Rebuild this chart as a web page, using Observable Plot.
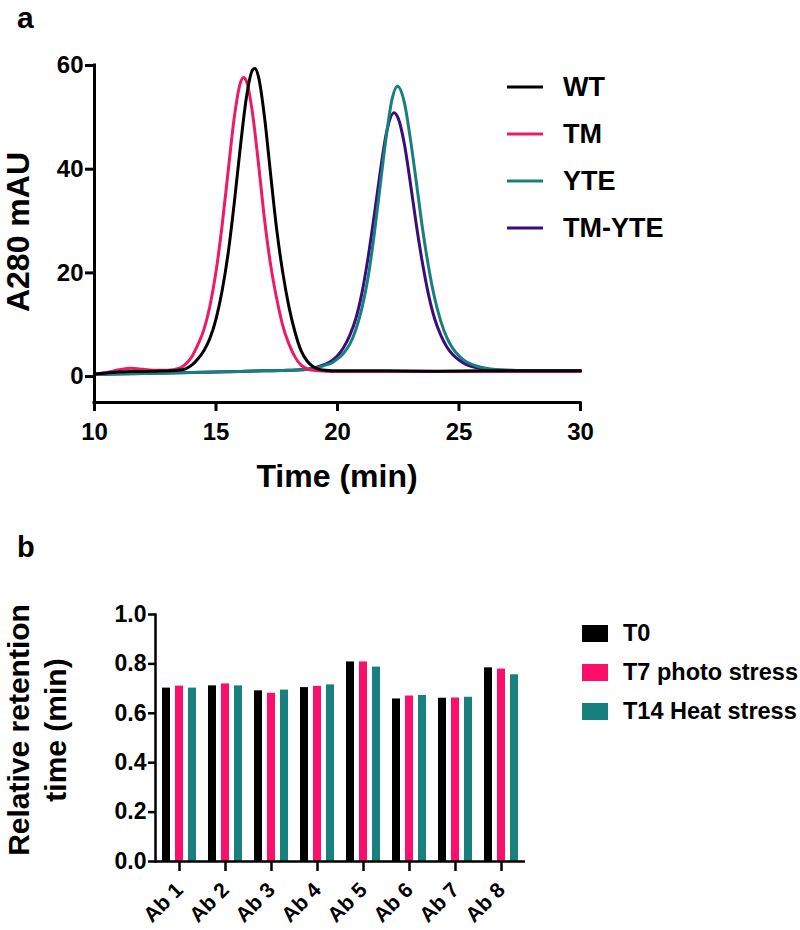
<!DOCTYPE html>
<html>
<head>
<meta charset="utf-8">
<script src="https://cdn.jsdelivr.net/npm/d3@7"></script>
<script src="https://cdn.jsdelivr.net/npm/@observablehq/plot@0.6"></script>
<style>
  body { margin: 0; background: #fff; }
  #wrap { position: relative; width: 800px; height: 930px; font-family: 'Liberation Sans', Arial, Helvetica, sans-serif; font-weight: bold; color: #000; overflow: hidden; }
  .abs { position: absolute; white-space: nowrap; line-height: 1; }
  .plot { position: absolute; left: 0; }
</style>
</head>
<body>
<div id="wrap"></div>
<script>
// ---------- Panel a: SEC chromatograms (time in min, A280 in mAU) ----------
const wtTrace = [[10,0.5],[10.5,0.7],[11,0.9],[11.5,1.0],[12,1.0],[12.5,1.05],[13,1.1],[13.5,1.25],[13.75,1.5],[14,2.2],[14.25,3.4],[14.5,5.0],[14.75,7.4],[15,11.1],[15.25,16.5],[15.5,23.8],[15.75,33.4],[16,44.2],[16.25,53.8],[16.5,59.1],[16.6,59.4],[16.75,57.8],[17,49.9],[17.25,38.9],[17.5,28.3],[17.75,20.0],[18,13.5],[18.25,8.6],[18.5,5.0],[18.75,3.0],[19,1.9],[19.25,1.4],[19.5,1.2],[20,1.1],[22,1.1],[24,1.05],[26,1.1],[28,1.1],[30,1.1]];
const tmTrace = [[10,0.5],[10.5,0.8],[11,1.3],[11.5,1.6],[12,1.4],[12.5,1.2],[13,1.2],[13.5,1.6],[13.75,2.4],[14,3.8],[14.25,6.1],[14.5,9.0],[14.75,13.6],[15,20.2],[15.25,29.1],[15.5,39.6],[15.75,49.9],[16,56.6],[16.13,57.7],[16.25,57.0],[16.5,50.9],[16.75,41.0],[17,30.2],[17.25,21.5],[17.5,15.0],[17.75,9.8],[18,6.3],[18.25,3.8],[18.5,2.2],[18.75,1.5],[19,1.2],[19.5,1.05],[20,1.0],[22,1.0],[24,1.0],[26,1.0],[28,1.0],[30,1.0]];
const yteTrace = [[10,0.4],[12,0.6],[14,0.8],[16,1.0],[17,1.1],[18,1.2],[18.5,1.3],[19,1.5],[19.25,1.8],[19.5,2.2],[19.75,2.6],[20,3.4],[20.25,4.5],[20.5,6.2],[20.75,9.0],[21,13.1],[21.25,18.9],[21.5,27.0],[21.75,36.6],[22,46.1],[22.25,53.6],[22.47,56.0],[22.75,52.9],[23,45.8],[23.25,37.3],[23.5,28.5],[23.75,21.1],[24,15.1],[24.25,10.7],[24.5,7.5],[24.75,5.4],[25,4.0],[25.25,3.0],[25.5,2.4],[25.75,2.0],[26,1.7],[26.5,1.35],[27,1.2],[28,1.12],[30,1.1]];
const tmYteTrace = [[10,0.4],[12,0.6],[14,0.8],[16,1.0],[17,1.1],[18,1.2],[18.5,1.3],[19,1.6],[19.25,1.95],[19.5,2.4],[19.75,3.0],[20,4.0],[20.25,5.6],[20.5,7.9],[20.75,11.1],[21,16.0],[21.25,22.7],[21.5,30.7],[21.75,39.2],[22,46.7],[22.33,50.9],[22.5,49.8],[22.75,44.9],[23,37.3],[23.25,29.1],[23.5,21.8],[23.75,15.7],[24,11.1],[24.25,8.0],[24.5,5.7],[24.75,4.2],[25,3.2],[25.25,2.45],[25.5,2.0],[25.75,1.7],[26,1.5],[26.5,1.3],[27,1.2],[28,1.1],[30,1.1]];

const traceNames = ["WT", "TM", "YTE", "TM-YTE"];
const traceColors = ["#000000", "#ec1a67", "#17807f", "#3a0c7c"];
const xDomainA = [10, 30];
const xTicksA = [10, 15, 20, 25, 30];
const yDomainA = [-5, 60];
const yTicksA = [0, 20, 40, 60];

// ---------- Panel b: relative retention time ----------
const antibodies = ["Ab 1", "Ab 2", "Ab 3", "Ab 4", "Ab 5", "Ab 6", "Ab 7", "Ab 8"];
const conditions = ["T0", "T7 photo stress", "T14 Heat stress"];
const t0Values  = [0.702, 0.711, 0.691, 0.704, 0.808, 0.658, 0.661, 0.784];
const t7Values  = [0.710, 0.719, 0.681, 0.709, 0.808, 0.670, 0.662, 0.779];
const t14Values = [0.702, 0.711, 0.694, 0.715, 0.787, 0.672, 0.665, 0.756];
const barColors = ["#000000", "#fb0f6a", "#18817f"];
const yDomainB = [0, 1];
const yTicksB = [0, 0.2, 0.4, 0.6, 0.8, 1.0];

const FONT = "'Liberation Sans', Arial, Helvetica, sans-serif";
const wrap = document.getElementById("wrap");

// ----- Plot a -----
const traces = [tmYteTrace, yteTrace, tmTrace, wtTrace];
const traceIdx = [3, 2, 1, 0];
const plotA = Plot.plot({
  width: 800, height: 520,
  marginLeft: 94, marginRight: 220, marginTop: 65, marginBottom: 118,
  x: {domain: xDomainA},
  y: {domain: yDomainA},
  style: {fontFamily: FONT, fontWeight: "bold", fontSize: "24px", color: "#000", background: "transparent", overflow: "visible"},
  marks: [
    ...traces.map((tr, k) => Plot.line(tr, {x: d => d[0], y: d => d[1], stroke: traceColors[traceIdx[k]], strokeWidth: 3, curve: "monotone-x"})),
    Plot.ruleX([xDomainA[0]], {strokeWidth: 3, strokeLinecap: "square"}),
    Plot.ruleY([yDomainA[0]], {strokeWidth: 3, strokeLinecap: "square"}),
    Plot.axisY({ticks: yTicksA, tickSize: 9, tickPadding: 2, strokeWidth: 3, fontSize: 24, label: null}),
    Plot.axisX({ticks: xTicksA, tickSize: 9, tickPadding: 11, strokeWidth: 3, fontSize: 24, label: null})
  ]
});
plotA.classList.add("plot");
plotA.style.top = "0px";
wrap.appendChild(plotA);

// ----- Plot b -----
const seriesB = [t0Values, t7Values, t14Values];
const rows = antibodies.flatMap((ab, i) => conditions.map((c, j) => ({ab, cond: c, v: seriesB[j][i]})));
const offsets = [-13, 0, 13];
const plotB = Plot.plot({
  width: 800, height: 410,
  marginLeft: 155, marginRight: 275, marginTop: 94, marginBottom: 69,
  x: {domain: antibodies, paddingInner: 0.8186, paddingOuter: 0.357},
  y: {domain: yDomainB},
  style: {fontFamily: FONT, fontWeight: "bold", fontSize: "23px", color: "#000", background: "transparent", overflow: "visible"},
  marks: [
    ...conditions.map((c, j) => Plot.barY(rows.filter(r => r.cond === c), {x: "ab", y: "v", fill: barColors[j], dx: offsets[j]})),
    Plot.ruleY([yDomainB[0]], {strokeWidth: 2.5}),
    Plot.frame({anchor: "left", strokeWidth: 2.5}),
    Plot.axisY({ticks: yTicksB, tickFormat: d3.format(".1f"), tickSize: 7, tickPadding: 2, strokeWidth: 2.5, fontSize: 23, label: null}),
    Plot.axisX({tickRotate: -45, tickSize: 10, tickPadding: 15, strokeWidth: 2.5, fontSize: 21, label: null})
  ]
});
plotB.classList.add("plot");
plotB.style.top = "520px";
wrap.appendChild(plotB);

// ----- text overlays -----
function addText(txt, css) {
  const d = document.createElement("div");
  d.className = "abs";
  d.textContent = txt;
  Object.assign(d.style, css);
  wrap.appendChild(d);
  return d;
}
addText("a", {left: "17px", top: "3px", fontSize: "30px"});
addText("b", {left: "17px", top: "533px", fontSize: "29px"});
addText("A280 mAU", {left: "19px", top: "232px", fontSize: "32px", lineHeight: "0.85", transform: "translate(-50%,-50%) rotate(-90deg)"});
addText("Time (min)", {left: "337px", top: "476px", fontSize: "32px", transform: "translate(-50%,-50%)"});
const yb = addText("", {left: "37px", top: "730px", fontSize: "30px", lineHeight: "37px", textAlign: "center", transform: "translate(-50%,-50%) rotate(-90deg)"});
yb.innerHTML = "Relative retention<br>time (min)";

// legend a
const legA = [87, 134, 181, 228];
traceNames.forEach((n, i) => {
  const row = document.createElement("div");
  row.className = "abs";
  Object.assign(row.style, {left: "507px", top: (legA[i] - 15) + "px", height: "30px", lineHeight: "30px", fontSize: "27px", display: "flex", alignItems: "center"});
  row.innerHTML = `<svg width="36" height="4" style="display:block"><line x1="0" y1="2" x2="36" y2="2" stroke="${traceColors[i]}" stroke-width="3"/></svg><span style="margin-left:20px">${n}</span>`;
  wrap.appendChild(row);
});
// legend b
const legB = [633, 672, 711];
conditions.forEach((n, i) => {
  const row = document.createElement("div");
  row.className = "abs";
  Object.assign(row.style, {left: "582px", top: (legB[i] - 15) + "px", height: "30px", lineHeight: "30px", fontSize: "23.5px", display: "flex", alignItems: "center"});
  row.innerHTML = `<span style="display:block;width:26px;height:17px;background:${barColors[i]}"></span><span style="margin-left:15px">${n}</span>`;
  wrap.appendChild(row);
});
</script>
</body>
</html>
